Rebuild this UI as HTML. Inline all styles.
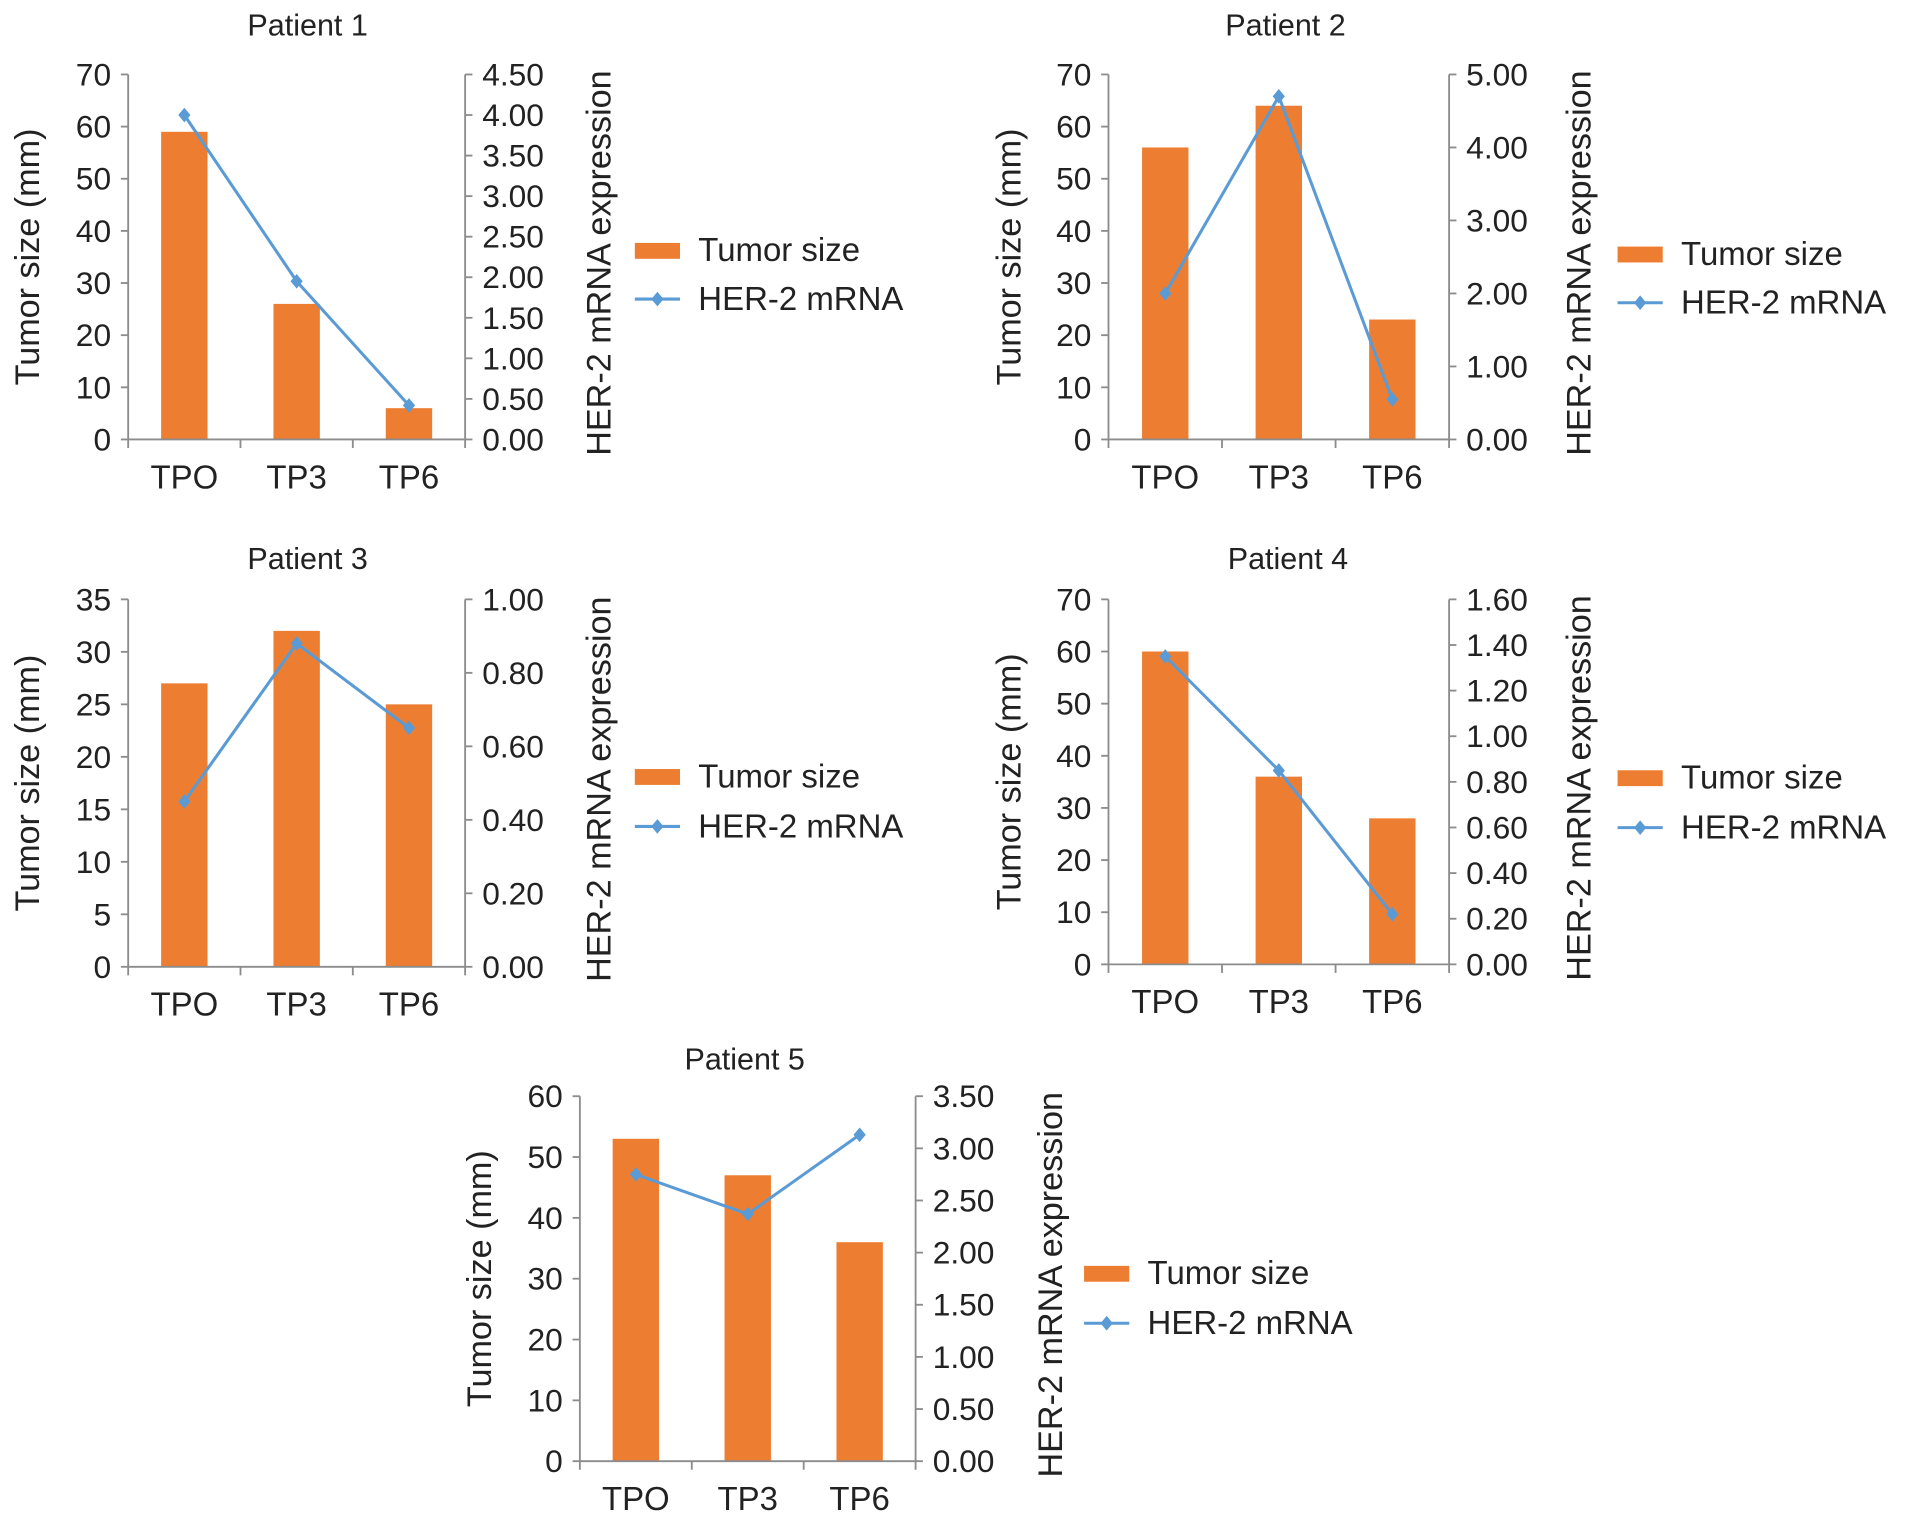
<!DOCTYPE html>
<html><head><meta charset="utf-8"><style>
html,body{margin:0;padding:0;background:#fff;}
svg{display:block;font-family:"Liberation Sans",Arial,sans-serif;}
</style></head><body>
<svg id="fig" width="1913" height="1521" viewBox="0 0 1567 1246" preserveAspectRatio="none" xmlns="http://www.w3.org/2000/svg"></svg>
<script>
const categories = ["TPO","TP3","TP6"];
const p1Tumor = [59, 26, 6];
const p1Her2 = [4.0, 1.95, 0.42];
const p2Tumor = [56, 64, 23];
const p2Her2 = [2.0, 4.7, 0.55];
const p3Tumor = [27, 32, 25];
const p3Her2 = [0.45, 0.88, 0.65];
const p4Tumor = [60, 36, 28];
const p4Her2 = [1.35, 0.85, 0.22];
const p5Tumor = [53, 47, 36];
const p5Her2 = [2.75, 2.37, 3.13];
const titles = ["Patient 1","Patient  2","Patient  3","Patient 4","Patient 5"];
const leftMax = [70, 70, 35, 70, 60];
const leftStep = [10, 10, 5, 10, 10];
const rightMax = [4.5, 5, 1, 1.6, 3.5];
const rightStep = [0.5, 1, 0.2, 0.2, 0.5];

const NS = "http://www.w3.org/2000/svg";
const svg = document.getElementById('fig');
function mk(tag, attrs, parent, text){
  const e = document.createElementNS(NS, tag);
  for (const k in attrs) e.setAttribute(k, attrs[k]);
  if (text !== undefined) e.textContent = text;
  (parent || svg).appendChild(e);
  return e;
}
const layouts = [
  [105, 381, 61, 360, 252, 20, 520, 205, 245, 22, 490],
  [908, 1187, 61, 360, 1053, 20, 1325, 208, 248, 826, 1293],
  [105, 381, 491, 792, 252, 457, 520, 636, 677, 22, 490],
  [908, 1187, 491, 790, 1055, 457, 1325, 637, 678, 826, 1293],
  [475, 750, 898, 1197, 610, 867, 888, 1043, 1084, 392, 860]
];
const tumors = [p1Tumor, p2Tumor, p3Tumor, p4Tumor, p5Tumor];
const hers = [p1Her2, p2Her2, p3Her2, p4Her2, p5Her2];

layouts.forEach((L, i) => {
  const [xl, xr, top, bot, tx, ty, lx, ly1, ly2, ytx, rtx] = L;
  const g = mk('g', {});
  
  
  const yL = v => bot - (v / leftMax[i]) * (bot - top);
  const yR = v => bot - (v / rightMax[i]) * (bot - top);
  const band = (xr - xl) / categories.length;
  const xC = k => xl + band * (k + 0.5);

  const t = mk('text', {x: tx, y: ty + 9, 'text-anchor': 'middle', 'font-size': 25, fill: '#222'}, g, titles[i]);
  
  

  tumors[i].forEach((v, k) => {
    const r = mk('rect', {x: xC(k) - 19, y: yL(v), width: 38, height: bot - yL(v), fill: '#ED7D31'}, g);
    
    
  });

  const axisColor = '#8c8c8c';
  const la = mk('line', {x1: xl, y1: top, x2: xl, y2: bot, stroke: axisColor, 'stroke-width': 1.5}, g);
  
  
  const ra = mk('line', {x1: xr, y1: top, x2: xr, y2: bot, stroke: axisColor, 'stroke-width': 1.5}, g);
  
  
  const xa = mk('line', {x1: xl, y1: bot, x2: xr, y2: bot, stroke: axisColor, 'stroke-width': 1.5}, g);
  
  
  for (let k = 0; k <= categories.length; k++) {
    mk('line', {x1: xl + band * k, y1: bot, x2: xl + band * k, y2: bot + 7, stroke: axisColor, 'stroke-width': 1.5}, g);
  }
  const nL = Math.round(leftMax[i] / leftStep[i]);
  for (let k = 0; k <= nL; k++) {
    const v = k * leftStep[i];
    mk('line', {x1: xl - 6, y1: yL(v), x2: xl, y2: yL(v), stroke: axisColor, 'stroke-width': 1.5}, g);
    const tl = mk('text', {x: xl - 14, y: yL(v) + 9, 'text-anchor': 'end', 'font-size': 26, fill: '#222'}, g, String(v));
    
    
  }
  const nR = Math.round(rightMax[i] / rightStep[i]);
  for (let k = 0; k <= nR; k++) {
    const v = k * rightStep[i];
    mk('line', {x1: xr, y1: yR(v), x2: xr + 6, y2: yR(v), stroke: axisColor, 'stroke-width': 1.5}, g);
    const tr = mk('text', {x: xr + 14, y: yR(v) + 9, 'text-anchor': 'start', 'font-size': 26, fill: '#222'}, g, v.toFixed(2));
    
    
  }
  categories.forEach((c, k) => {
    const cl = mk('text', {x: xC(k), y: bot + 40, 'text-anchor': 'middle', 'font-size': 27, fill: '#222'}, g, c);
    
    
  });

  const cy = (top + bot) / 2;
  const yt = mk('text', {x: 0, y: 0, transform: `translate(${ytx + 10},${cy}) rotate(-90)`, 'text-anchor': 'middle', 'font-size': 28, fill: '#222'}, g, 'Tumor size (mm)');
  
  
  const rt = mk('text', {x: 0, y: 0, transform: `translate(${rtx + 10},${cy + 5}) rotate(-90)`, 'text-anchor': 'middle', 'font-size': 28, fill: '#222'}, g, 'HER-2 mRNA expression');
  
  

  const pts = hers[i].map((v, k) => `${xC(k)},${yR(v)}`).join(' ');
  const pl = mk('polyline', {points: pts, fill: 'none', stroke: '#5B9BD5', 'stroke-width': 2.5}, g);
  
  
  hers[i].forEach((v, k) => {
    const x = xC(k), y = yR(v);
    const m = mk('polygon', {points: `${x},${y-6} ${x+5},${y} ${x},${y+6} ${x-5},${y}`, fill: '#5B9BD5'}, g);
    
    
  });

  const lg = mk('g', {}, g);
  
  
  mk('rect', {x: lx, y: ly1 - 6, width: 37, height: 13, fill: '#ED7D31'}, lg);
  mk('text', {x: lx + 52, y: ly1 + 9, 'font-size': 27, fill: '#222'}, lg, 'Tumor size');
  mk('line', {x1: lx, y1: ly2, x2: lx + 37, y2: ly2, stroke: '#5B9BD5', 'stroke-width': 2.5}, lg);
  const cx = lx + 18.5;
  mk('polygon', {points: `${cx},${ly2-6} ${cx+5},${ly2} ${cx},${ly2+6} ${cx-5},${ly2}`, fill: '#5B9BD5'}, lg);
  mk('text', {x: lx + 52, y: ly2 + 9, 'font-size': 27, fill: '#222'}, lg, 'HER-2 mRNA');
});
</script>
</body></html>
